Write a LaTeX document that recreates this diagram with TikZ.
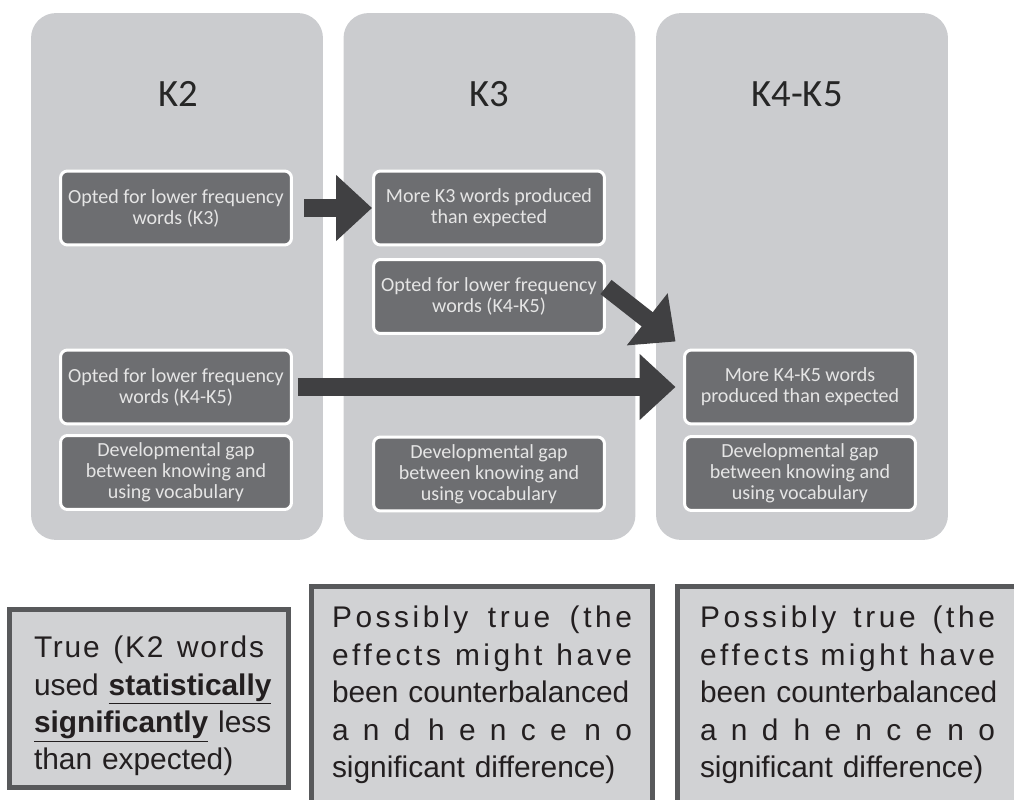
\documentclass[tikz,border=0pt]{standalone}
\usepackage{fontspec}
\setmainfont{Carlito}
\newfontfamily\notefont{Liberation Sans}
\usetikzlibrary{arrows.meta,positioning}
\definecolor{panelgray}{HTML}{CBCCCF}
\definecolor{boxgray}{HTML}{6D6E71}
\definecolor{arrowgray}{HTML}{404042}
\definecolor{notefill}{HTML}{D1D2D4}
\definecolor{noteline}{HTML}{58595B}
\definecolor{notetext}{HTML}{231F20}
\newcommand\spreadln[2]{\makebox[\hsize][s]{\addfontfeature{LetterSpace=#1}#2}}
\tikzset{%
	panel/.style={fill=panelgray, rounded corners=0.5cm, minimum width=5.84cm, minimum height=10.54cm},
	stage/.style={font=\fontsize{22}{24}\selectfont, text=black!85},
	finding/.style={fill=boxgray, draw=white, line width=0.06cm, rounded corners=0.14cm,
		minimum width=4.62cm, minimum height=1.48cm, inner sep=1pt, align=center,
		text=white!90!black, font=\fontsize{11.4}{12}\selectfont},
	flow/.style={arrowgray, line width=0.36cm, -{Triangle[width=1.28cm,length=0.72cm]}},
	note/.style={fill=notefill, draw=noteline, line width=0.1cm, text=notetext, align=left,
		font=\notefont\fontsize{17}{21.3}\selectfont}
}
\begin{document}
\begin{tikzpicture}[x=0.02cm, y=-0.02cm]
	\useasboundingbox (0,0) rectangle (1014,800);
	\clip (0,0) rectangle (1014,800);
	\node [panel] (k2) at (177, 276.5) {};
	\node [panel] (k3) at (489.5, 276.5) {};
	\node [panel] (k45) at (802, 276.5) {};
	\node [stage] (t2) at (178, 94) {K2};
	\node [stage] (t3) at (489, 94) {K3};
	\node [stage] (t45) at (797, 94) {K4-K5};
	\node [finding] (a1) at (176, 208) {Opted for lower frequency\\words (K3)};
	\node [finding] (a2) at (176, 387) {Opted for lower frequency\\words (K4-K5)};
	\node [finding] (a3) at (176, 472.5) {Developmental gap\\between knowing and\\using vocabulary};
	\node [finding] (b1) at (489, 208) {More K3 words produced\\than expected};
	\node [finding] (b2) at (489, 296.5) {Opted for lower frequency\\words (K4-K5)};
	\node [finding] (b3) at (489, 474) {Developmental gap\\between knowing and\\using vocabulary};
	\node [finding] (c1) at (800, 387) {More K4-K5 words\\produced than expected};
	\node [finding] (c2) at (800, 473.5) {Developmental gap\\between knowing and\\using vocabulary};
	\coordinate (tip3) at ([xshift=-0.15cm, yshift=0.14cm]c1.north west);
	\draw [flow] ([xshift=0.23cm]a1.east) -- (b1.west);
	\draw [flow] ([yshift=0.19cm]b2.east) -- (tip3);
	\draw [flow] ([xshift=0.1cm]a2.east) -- ([xshift=-0.15cm]c1.west);
	\node [note, text width=4.6cm, inner xsep=0.49cm, minimum height=3.56cm] (n2) at (149, 698.5)
		{\rule{0pt}{21pt}\spreadln{6}{True\hfill (K2\hfill words}\\
		 \spreadln{0}{used \underline{\textbf{statistically}}}\\
		 \spreadln{0}{\underline{\textbf{significantly}} less}\\
		 than expected)};
	\node [note, text width=6cm, inner xsep=0.41cm, minimum height=4.34cm] (n3) at (482, 695)
		{\spreadln{12}{Possibly\hfill true\hfill (the}\\
		 \spreadln{12}{effects\hfill might\hfill have}\\
		 \spreadln{0}{been counterbalanced}\\
		 \spreadln{48}{and\hfill hence\hfill no}\\
		 significant difference)};
	\node [note, text width=5.9cm, inner xsep=0.45cm, minimum height=4.34cm] (n45) at (847.5, 695)
		{\spreadln{12}{Possibly\hfill true\hfill (the}\\
		 \spreadln{12}{effects\hfill might\hfill have}\\
		 \spreadln{0}{been counterbalanced}\\
		 \spreadln{48}{and\hfill hence\hfill no}\\
		 significant difference)};
\end{tikzpicture}
\end{document}
